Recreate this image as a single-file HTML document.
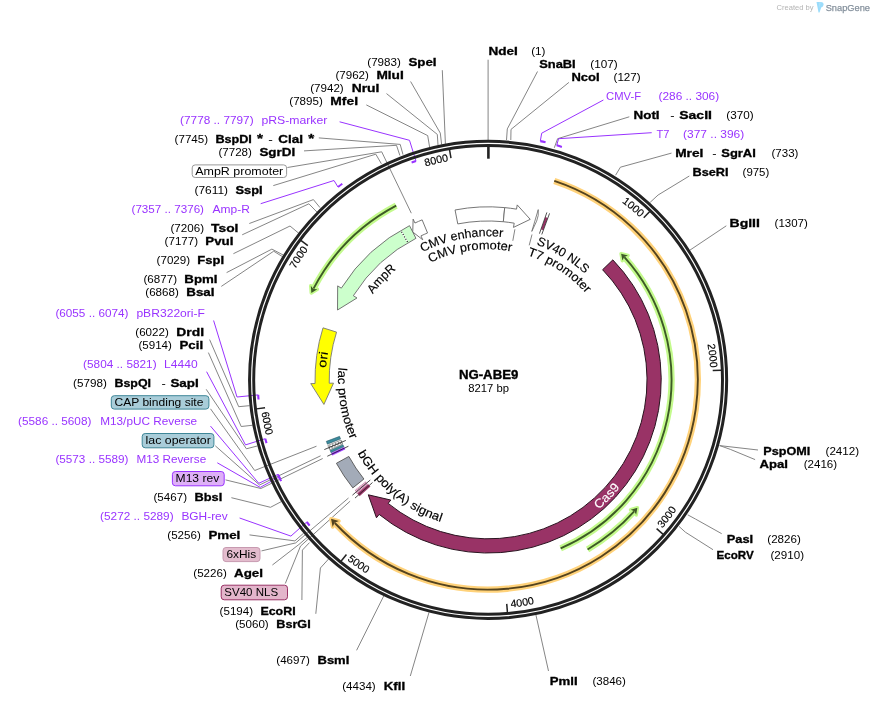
<!DOCTYPE html>
<html><head><meta charset="utf-8"><title>NG-ABE9</title>
<style>
html,body{margin:0;padding:0;background:#fff;}
body{width:874px;height:703px;overflow:hidden;}
svg{display:block;will-change:transform;font-family:"Liberation Sans",sans-serif;}
</style></head><body>
<svg width="874" height="703" viewBox="0 0 874 703">
<rect width="874" height="703" fill="#fff"/>
<polyline points="514.9,229.3 512.8,240.8" fill="none" stroke="#777" stroke-width="0.9"/>
<polyline points="532,234.5 529.2,245.3" fill="none" stroke="#777" stroke-width="0.9"/>
<polyline points="442.3,70.2 445.4,143.83" fill="none" stroke="#777" stroke-width="0.9"/>
<polyline points="410.6,81.5 440.3,133.1 441.62,144.55" fill="none" stroke="#777" stroke-width="0.9"/>
<polyline points="386.5,93.6 437.3,134.4 438.02,145.28" fill="none" stroke="#777" stroke-width="0.9"/>
<polyline points="366.3,104.9 427.7,135.6 429.63,147.24" fill="none" stroke="#777" stroke-width="0.9"/>
<polyline points="318.8,137.9 400.2,144.4 403,154.6" fill="none" stroke="#777" stroke-width="0.9"/>
<polyline points="304,150.9 396.5,145.3 399.9,155.5" fill="none" stroke="#777" stroke-width="0.9"/>
<polyline points="287.4,167.5 381.7,151.8 411.3,213.2" fill="none" stroke="#777" stroke-width="0.9"/>
<polyline points="273.3,185.6 375.8,154.2 381.4,163.8" fill="none" stroke="#777" stroke-width="0.9"/>
<polyline points="249.3,223.5 313.4,199.6 320,207.6" fill="none" stroke="#777" stroke-width="0.9"/>
<polyline points="242.2,234.8 308.9,203.8 317,212.1" fill="none" stroke="#777" stroke-width="0.9"/>
<polyline points="233.4,253.7 290,226 298.8,233.3" fill="none" stroke="#777" stroke-width="0.9"/>
<polyline points="226.6,272.6 271.9,249.1 283,254.9" fill="none" stroke="#777" stroke-width="0.9"/>
<polyline points="221.3,286.4 273.7,251.2 282.5,256.7" fill="none" stroke="#777" stroke-width="0.9"/>
<polyline points="209.6,339.6 238.7,406.7 249.59,405.67" fill="none" stroke="#777" stroke-width="0.9"/>
<polyline points="208.4,352.6 241.2,426.5 252.53,425.26" fill="none" stroke="#777" stroke-width="0.9"/>
<polyline points="206.2,389.3 246.4,448.8 257.47,445.95" fill="none" stroke="#777" stroke-width="0.9"/>
<polyline points="210.5,408.8 254.7,470.5 316.5,446.2" fill="none" stroke="#777" stroke-width="0.9"/>
<polyline points="215.3,445.8 259.5,485 320.6,455.8" fill="none" stroke="#777" stroke-width="0.9"/>
<polyline points="225.6,479.9 260.9,488.5 322.7,458.5" fill="none" stroke="#777" stroke-width="0.9"/>
<polyline points="231.4,497.7 270.5,507.3 281.36,501.59" fill="none" stroke="#777" stroke-width="0.9"/>
<polyline points="249.5,534.9 294.9,540.9 303.59,533.22" fill="none" stroke="#777" stroke-width="0.9"/>
<polyline points="261.5,550.9 295.7,542.9 348.5,498" fill="none" stroke="#777" stroke-width="0.9"/>
<polyline points="272.4,565 298.9,544.5 307.16,537.42" fill="none" stroke="#777" stroke-width="0.9"/>
<polyline points="285.3,583.5 300.5,546.1 350.1,501.2" fill="none" stroke="#777" stroke-width="0.9"/>
<polyline points="301.9,600 302.4,550.1 309.5,542.6" fill="none" stroke="#777" stroke-width="0.9"/>
<polyline points="315.8,613.8 320.4,568 328.55,559.06" fill="none" stroke="#777" stroke-width="0.9"/>
<polyline points="356.6,650.3 383.75,595.92" fill="none" stroke="#777" stroke-width="0.9"/>
<polyline points="410.3,676 429,612.41" fill="none" stroke="#777" stroke-width="0.9"/>
<polyline points="548.5,671 535.93,614.98" fill="none" stroke="#777" stroke-width="0.9"/>
<polyline points="713,549.7 685.4,532.2 679,526.4" fill="none" stroke="#777" stroke-width="0.9"/>
<polyline points="721.7,533.7 695.6,519.1 687.7,514.8" fill="none" stroke="#777" stroke-width="0.9"/>
<polyline points="755.1,459.6 730.4,449.4 719.7,445.6" fill="none" stroke="#777" stroke-width="0.9"/>
<polyline points="758,450 719.7,445.6" fill="none" stroke="#777" stroke-width="0.9"/>
<polyline points="726.3,225.8 689.89,250.16" fill="none" stroke="#777" stroke-width="0.9"/>
<polyline points="689.3,176 658.1,195 650.2,202.3" fill="none" stroke="#777" stroke-width="0.9"/>
<polyline points="671.5,153.1 620.4,167.2 615.6,175.2" fill="none" stroke="#777" stroke-width="0.9"/>
<polyline points="629.3,116.8 557.6,138.7 554.3,147.8" fill="none" stroke="#777" stroke-width="0.9"/>
<polyline points="568.9,82.4 511,129.4 510.8,140" fill="none" stroke="#777" stroke-width="0.9"/>
<polyline points="537.5,71.5 507.3,128.9 506.5,140" fill="none" stroke="#777" stroke-width="0.9"/>
<polyline points="488.1,59.7 488.1,140" fill="none" stroke="#777" stroke-width="0.9"/>
<polyline points="603.4,100 541.7,133.2 540.31,141.14" fill="none" stroke="#9933ff" stroke-width="1.0"/>
<path d="M540.31,141.14 A244.4,244.4 0 0 1 545.57,142.35" fill="none" stroke="#9933ff" stroke-width="2.1"/>
<polyline points="651.7,132.7 558.6,138.7 556.7,145.32" fill="none" stroke="#9933ff" stroke-width="1.0"/>
<path d="M556.7,145.32 A244.4,244.4 0 0 1 561.86,146.9" fill="none" stroke="#9933ff" stroke-width="2.1"/>
<polyline points="339.6,121.8 409.5,140.3 415.97,161.08" fill="none" stroke="#9933ff" stroke-width="1.0"/>
<path d="M415.97,161.08 A230.4,230.4 0 0 0 411.61,162.57" fill="none" stroke="#9933ff" stroke-width="2.1"/>
<polyline points="260.7,203.7 334,180.5 337.99,187.03" fill="none" stroke="#9933ff" stroke-width="1.0"/>
<path d="M337.99,187.03 A244.4,244.4 0 0 1 342.28,183.76" fill="none" stroke="#9933ff" stroke-width="2.1"/>
<polyline points="213.6,320.5 237,397 258.19,394.9" fill="none" stroke="#9933ff" stroke-width="1.0"/>
<path d="M258.19,394.9 A230.4,230.4 0 0 0 258.53,399.49" fill="none" stroke="#9933ff" stroke-width="2.1"/>
<polyline points="206.6,371.7 245.5,444.9 265.32,438.65" fill="none" stroke="#9933ff" stroke-width="1.0"/>
<path d="M265.32,438.65 A230.4,230.4 0 0 0 266.53,443.09" fill="none" stroke="#9933ff" stroke-width="2.1"/>
<polyline points="210.5,426.1 258.8,483.3 277.97,474.4" fill="none" stroke="#9933ff" stroke-width="1.0"/>
<path d="M277.97,474.4 A230.4,230.4 0 0 0 279.9,478.58" fill="none" stroke="#9933ff" stroke-width="2.1"/>
<polyline points="217.3,462.8 260.2,487.4 279.14,476.96" fill="none" stroke="#9933ff" stroke-width="1.0"/>
<path d="M279.14,476.96 A230.4,230.4 0 0 0 281.12,481.12" fill="none" stroke="#9933ff" stroke-width="2.1"/>
<polyline points="239.6,518 290.9,536.1 306.74,522" fill="none" stroke="#9933ff" stroke-width="1.0"/>
<path d="M306.74,522 A230.4,230.4 0 0 0 309.62,525.6" fill="none" stroke="#9933ff" stroke-width="2.1"/>
<circle cx="488.1" cy="379.9" r="238.55" fill="none" stroke="#222" stroke-width="3.0"/>
<circle cx="488.1" cy="379.9" r="234.4" fill="none" stroke="#222" stroke-width="2.95"/>
<line x1="488.4" y1="146.4" x2="488.4" y2="158.7" stroke="#222" stroke-width="2.6"/>
<line x1="649.75" y1="211.4" x2="643.73" y2="217.68" stroke="#222" stroke-width="1.5"/>
<path id="tp1" d="M621.83,202.32 A222.3,222.3 0 0 1 656.17,234.4" fill="none"/>
<text font-size="10.6" fill="#000" font-weight="normal" stroke="#000" stroke-width="0.15"><textPath href="#tp1" textLength="23.8" lengthAdjust="spacingAndGlyphs">1000</textPath></text>
<line x1="721.4" y1="370.22" x2="712.71" y2="370.58" stroke="#222" stroke-width="1.5"/>
<path id="tp2" d="M707.54,344.33 A222.3,222.3 0 0 1 710.11,391.25" fill="none"/>
<text font-size="10.6" fill="#000" font-weight="normal" stroke="#000" stroke-width="0.15"><textPath href="#tp2" textLength="23.8" lengthAdjust="spacingAndGlyphs">2000</textPath></text>
<line x1="663.16" y1="534.42" x2="656.63" y2="528.67" stroke="#222" stroke-width="1.5"/>
<path id="tp3" d="M662.19,528.37 A228.8,228.8 0 0 0 689.18,489.07" fill="none"/>
<text font-size="10.6" fill="#000" font-weight="normal" stroke="#000" stroke-width="0.15"><textPath href="#tp3" textLength="23.8" lengthAdjust="spacingAndGlyphs">3000</textPath></text>
<line x1="507.45" y1="612.6" x2="506.73" y2="603.93" stroke="#222" stroke-width="1.5"/>
<path id="tp4" d="M510.94,607.56 A228.8,228.8 0 0 0 557.63,597.88" fill="none"/>
<text font-size="10.6" fill="#000" font-weight="normal" stroke="#000" stroke-width="0.15"><textPath href="#tp4" textLength="23.8" lengthAdjust="spacingAndGlyphs">4000</textPath></text>
<line x1="340.97" y1="561.21" x2="346.45" y2="554.46" stroke="#222" stroke-width="1.5"/>
<path id="tp5" d="M346.98,560 A228.8,228.8 0 0 0 387.36,585.33" fill="none"/>
<text font-size="10.6" fill="#000" font-weight="normal" stroke="#000" stroke-width="0.15"><textPath href="#tp5" textLength="23.8" lengthAdjust="spacingAndGlyphs">5000</textPath></text>
<line x1="256.41" y1="408.88" x2="265.04" y2="407.8" stroke="#222" stroke-width="1.5"/>
<path id="tp6" d="M261.59,412.17 A228.8,228.8 0 0 0 273.19,458.41" fill="none"/>
<text font-size="10.6" fill="#000" font-weight="normal" stroke="#000" stroke-width="0.15"><textPath href="#tp6" textLength="23.8" lengthAdjust="spacingAndGlyphs">6000</textPath></text>
<line x1="300.84" y1="240.42" x2="307.82" y2="245.61" stroke="#222" stroke-width="1.5"/>
<path id="tp7" d="M295.29,269.25 A222.3,222.3 0 0 1 322.86,231.19" fill="none"/>
<text font-size="10.6" fill="#000" font-weight="normal" stroke="#000" stroke-width="0.15"><textPath href="#tp7" textLength="23.8" lengthAdjust="spacingAndGlyphs">7000</textPath></text>
<line x1="449.53" y1="149.61" x2="450.97" y2="158.19" stroke="#222" stroke-width="1.5"/>
<path id="tp8" d="M425.57,166.58 A222.3,222.3 0 0 1 471.81,158.2" fill="none"/>
<text font-size="10.6" fill="#000" font-weight="normal" stroke="#000" stroke-width="0.15"><textPath href="#tp8" textLength="23.8" lengthAdjust="spacingAndGlyphs">8000</textPath></text>
<path d="M554.29,180.92 A209.7,209.7 0 1 1 334.81,523" fill="none" stroke="#ffd27a" stroke-width="6.3"/>
<path d="M331.04,518.85 L332.62,527 L334.57,522.74 L338.92,521.03 Z" fill="#ffd27a" stroke="#ffd27a" stroke-width="3.6" stroke-linejoin="round"/>
<path d="M554.29,180.92 A209.7,209.7 0 1 1 334.81,523" fill="none" stroke="#54431e" stroke-width="1.9"/>
<path d="M331.04,518.85 L332.62,527 L334.57,522.74 L338.92,521.03 Z" fill="#54431e"/>
<path d="M396.22,205.64 A197,197 0 0 0 313.51,288.64" fill="none" stroke="#c3fa8c" stroke-width="6.3"/>
<path d="M311.34,292.92 L310.78,285.84 L313.37,288.91 L317.36,289.32 Z" fill="#c3fa8c" stroke="#c3fa8c" stroke-width="3.6" stroke-linejoin="round"/>
<path d="M396.22,205.64 A197,197 0 0 0 313.51,288.64" fill="none" stroke="#3d5a26" stroke-width="1.9"/>
<path d="M311.34,292.92 L310.78,285.84 L313.37,288.91 L317.36,289.32 Z" fill="#3d5a26"/>
<path d="M560.64,548.34 A183.4,183.4 0 0 0 624.39,257.18" fill="none" stroke="#c3fa8c" stroke-width="6.3"/>
<path d="M621.13,253.66 L627.97,255.6 L624.19,256.96 L622.41,260.55 Z" fill="#c3fa8c" stroke="#c3fa8c" stroke-width="3.6" stroke-linejoin="round"/>
<path d="M560.64,548.34 A183.4,183.4 0 0 0 624.39,257.18" fill="none" stroke="#3d5a26" stroke-width="1.9"/>
<path d="M621.13,253.66 L627.97,255.6 L624.19,256.96 L622.41,260.55 Z" fill="#3d5a26"/>
<path d="M587.59,549.47 A196.6,196.6 0 0 0 634.2,511.45" fill="none" stroke="#c3fa8c" stroke-width="6.3"/>
<path d="M637.37,507.84 L636.15,514.84 L634.41,511.23 L630.65,509.83 Z" fill="#c3fa8c" stroke="#c3fa8c" stroke-width="3.6" stroke-linejoin="round"/>
<path d="M587.59,549.47 A196.6,196.6 0 0 0 634.2,511.45" fill="none" stroke="#3d5a26" stroke-width="1.9"/>
<path d="M637.37,507.84 L636.15,514.84 L634.41,511.23 L630.65,509.83 Z" fill="#3d5a26"/>
<path d="M612.83,259.87 A173.1,173.1 0 0 1 379.16,514.42 L376.46,517.77 L368.29,494.8 L390.81,500.05 L388.1,503.39 A158.9,158.9 0 0 0 602.6,269.72 Z" fill="#993366" stroke="#2a1420" stroke-width="1.0" stroke-linejoin="miter"/>
<path d="M455.07,209.98 A173.1,173.1 0 0 1 504.69,207.6 L503.33,221.73 A158.9,158.9 0 0 0 457.78,223.92 Z" fill="#fff" stroke="#666" stroke-width="0.9" stroke-linejoin="miter"/>
<path d="M504.69,207.6 A173.1,173.1 0 0 1 516.52,209.15 L517.23,204.91 L530.22,219.33 L513.48,227.4 L514.19,223.16 A158.9,158.9 0 0 0 503.33,221.73 Z" fill="#fff" stroke="#666" stroke-width="0.9" stroke-linejoin="miter"/>
<path d="M538.22,209.62 L538.24,215.37 L536.63,221.15 L531.81,231.4 Z" fill="#fff" stroke="#666" stroke-width="0.8"/>
<path d="M545.43,217.1 A172.6,172.6 0 0 1 547.7,217.92 L543.14,230.3 A159.4,159.4 0 0 0 541.05,229.55 Z" fill="#993366" stroke="none" stroke-width="0" stroke-linejoin="miter"/>
<line x1="539.43" y1="233.65" x2="546.88" y2="212.42" stroke="#1a1a1a" stroke-width="0.75"/>
<line x1="541.77" y1="234.49" x2="549.56" y2="213.38" stroke="#1a1a1a" stroke-width="0.75"/>
<path d="M422.14,219.86 A173.1,173.1 0 0 0 414.94,223.02 L413.13,219.12 L412.74,231.99 L422.76,239.78 L420.95,235.89 A158.9,158.9 0 0 1 427.55,232.99 Z" fill="#fff" stroke="#666" stroke-width="0.9" stroke-linejoin="miter"/>
<path d="M409.51,225.67 A173.1,173.1 0 0 0 341.3,288.17 L337.66,285.89 L337.53,310.01 L356.99,297.97 L353.35,295.7 A158.9,158.9 0 0 1 415.96,238.32 Z" fill="#ccffcc" stroke="#666" stroke-width="0.9" stroke-linejoin="miter"/>
<line x1="407.53" y1="242.02" x2="401.17" y2="231.14" stroke="#fff" stroke-width="1.3"/>
<line x1="407.53" y1="242.02" x2="401.17" y2="231.14" stroke="#111" stroke-width="1.1" stroke-dasharray="1.1,1.6"/>
<path d="M323.01,327.85 A173.1,173.1 0 0 0 315.04,383.53 L310.74,383.62 L323.92,404.44 L333.53,383.14 L329.23,383.23 A158.9,158.9 0 0 1 336.55,332.12 Z" fill="#ffff00" stroke="#777" stroke-width="0.9" stroke-linejoin="miter"/>
<path d="M326.28,441.37 A173.1,173.1 0 0 0 327.38,444.18 L340.56,438.91 A158.9,158.9 0 0 1 339.56,436.33 Z" fill="#3a8a9c" stroke="#2a5560" stroke-width="0.5" stroke-linejoin="miter"/>
<path d="M327.89,445.44 A173.1,173.1 0 0 0 329.72,449.75 L342.71,444.02 A158.9,158.9 0 0 1 341.03,440.07 Z" fill="#fff" stroke="#444" stroke-width="0.5" stroke-linejoin="miter"/>
<polyline points="341.35,440.84 340.93,443.89 338.43,442.05 338.04,445.15 335.52,443.26 335.14,446.41 332.61,444.47 332.25,447.67 329.69,445.68 329.36,448.92" fill="none" stroke="#333" stroke-width="0.55"/>
<path d="M330.03,450.44 A173.1,173.1 0 0 0 331.09,452.78 L343.97,446.8 A158.9,158.9 0 0 1 342.99,444.66 Z" fill="#3a8a9c" stroke="#2a5560" stroke-width="0.5" stroke-linejoin="miter"/>
<path d="M331.28,453.19 A173.1,173.1 0 0 0 332.32,455.37 L345.1,449.18 A158.9,158.9 0 0 1 344.15,447.18 Z" fill="#9933ff" stroke="#9933ff" stroke-width="0.3" stroke-linejoin="miter"/>
<line x1="345.84" y1="440.43" x2="324.31" y2="449.59" stroke="#222" stroke-width="0.8"/>
<line x1="348.44" y1="446.21" x2="327.31" y2="456.25" stroke="#222" stroke-width="0.8"/>
<path d="M336.41,463.29 A173.1,173.1 0 0 0 352.82,487.89 L363.92,479.03 A158.9,158.9 0 0 1 348.85,456.45 Z" fill="#a3abb8" stroke="#555" stroke-width="0.9" stroke-linejoin="miter"/>
<path d="M354.72,490.24 A173.1,173.1 0 0 0 357.46,493.46 L368.18,484.15 A158.9,158.9 0 0 1 365.67,481.19 Z" fill="#e8bcd4" stroke="none" stroke-width="0" stroke-linejoin="miter"/>
<line x1="364.97" y1="481.76" x2="366.59" y2="485.53" stroke="#a05080" stroke-width="0.45"/>
<line x1="363.59" y1="482.91" x2="365.23" y2="486.71" stroke="#a05080" stroke-width="0.45"/>
<line x1="362.2" y1="484.06" x2="363.87" y2="487.89" stroke="#a05080" stroke-width="0.45"/>
<line x1="360.81" y1="485.2" x2="362.52" y2="489.07" stroke="#a05080" stroke-width="0.45"/>
<line x1="359.42" y1="486.35" x2="361.16" y2="490.25" stroke="#a05080" stroke-width="0.45"/>
<line x1="358.04" y1="487.5" x2="359.8" y2="491.43" stroke="#a05080" stroke-width="0.45"/>
<line x1="356.65" y1="488.64" x2="358.44" y2="492.61" stroke="#a05080" stroke-width="0.45"/>
<line x1="355.26" y1="489.79" x2="357.08" y2="493.79" stroke="#a05080" stroke-width="0.45"/>
<path d="M357.46,493.46 A173.1,173.1 0 0 0 359.66,495.95 L370.2,486.43 A158.9,158.9 0 0 1 368.18,484.15 Z" fill="#993366" stroke="#993366" stroke-width="0.3" stroke-linejoin="miter"/>
<line x1="370.28" y1="480" x2="352.45" y2="495.15" stroke="#222" stroke-width="0.8"/>
<line x1="372.49" y1="482.54" x2="354.99" y2="498.08" stroke="#222" stroke-width="0.8"/>
<path id="tp9" d="M422.46,252.18 A143.6,143.6 0 0 1 517.71,239.39" fill="none"/>
<text font-size="12.3" fill="#000" font-weight="normal" stroke="#000" stroke-width="0.15"><textPath href="#tp9" textLength="82.96" lengthAdjust="spacingAndGlyphs">CMV enhancer</textPath></text>
<path id="tp10" d="M430.44,262.72 A130.6,130.6 0 0 1 524.76,254.55" fill="none"/>
<text font-size="12.3" fill="#000" font-weight="normal" stroke="#000" stroke-width="0.15"><textPath href="#tp10" textLength="83.2" lengthAdjust="spacingAndGlyphs">CMV promoter</textPath></text>
<path id="tp11" d="M536.27,244.62 A143.6,143.6 0 0 1 595.48,284.56" fill="none"/>
<text font-size="12.3" fill="#000" font-weight="normal" stroke="#000" stroke-width="0.15"><textPath href="#tp11" textLength="57.14" lengthAdjust="spacingAndGlyphs">SV40 NLS</textPath></text>
<path id="tp12" d="M527.15,255.28 A130.6,130.6 0 0 1 594.56,304.25" fill="none"/>
<text font-size="12.3" fill="#000" font-weight="normal" stroke="#000" stroke-width="0.15"><textPath href="#tp12" textLength="71.12" lengthAdjust="spacingAndGlyphs">T7 promoter</textPath></text>
<path id="tp13" d="M372.82,294.28 A143.6,143.6 0 0 1 408.22,260.57" fill="none"/>
<text font-size="12.3" fill="#000" font-weight="normal" stroke="#000" stroke-width="0.15"><textPath href="#tp13" textLength="34.09" lengthAdjust="spacingAndGlyphs">AmpR</textPath></text>
<path id="tp14" d="M326.14,368.01 A162.4,162.4 0 0 1 331.84,335.68" fill="none"/>
<text font-size="12.3" fill="#000" font-weight="normal" stroke="#000" stroke-width="0.15"><textPath href="#tp14" textLength="15.87" lengthAdjust="spacingAndGlyphs">ori</textPath></text>
<path id="tp15" d="M338.6,367.61 A150,150 0 0 0 357.42,453.54" fill="none"/>
<text font-size="12.3" fill="#000" font-weight="normal" stroke="#000" stroke-width="0.15"><textPath href="#tp15" textLength="73.57" lengthAdjust="spacingAndGlyphs">lac promoter</textPath></text>
<path id="tp16" d="M357.55,453.16 A149.7,149.7 0 0 0 455.7,526.05" fill="none"/>
<text font-size="12.3" fill="#000" font-weight="normal" stroke="#000" stroke-width="0.15"><textPath href="#tp16" textLength="110.26" lengthAdjust="spacingAndGlyphs">bGH poly(A) signal</textPath></text>
<path id="tp17" d="M598.41,509.51 A170.2,170.2 0 0 0 630.52,473.1" fill="none"/>
<text font-size="12.3" fill="#fff" font-weight="normal" stroke="#fff" stroke-width="0.15"><textPath href="#tp17" textLength="30.89" lengthAdjust="spacingAndGlyphs">Cas9</textPath></text>
<text x="367.3" y="65.9" font-size="10.8" fill="#000" textLength="33.5" lengthAdjust="spacingAndGlyphs">(7983)</text>
<text x="408.4" y="65.9" font-size="10.8" fill="#000" font-weight="bold" stroke="#000" stroke-width="0.3" textLength="28.2" lengthAdjust="spacingAndGlyphs">SpeI</text>
<text x="335.4" y="79" font-size="10.8" fill="#000" textLength="33.5" lengthAdjust="spacingAndGlyphs">(7962)</text>
<text x="376.4" y="79" font-size="10.8" fill="#000" font-weight="bold" stroke="#000" stroke-width="0.3" textLength="27.4" lengthAdjust="spacingAndGlyphs">MluI</text>
<text x="310.2" y="92.1" font-size="10.8" fill="#000" textLength="33.5" lengthAdjust="spacingAndGlyphs">(7942)</text>
<text x="351.7" y="92.1" font-size="10.8" fill="#000" font-weight="bold" stroke="#000" stroke-width="0.3" textLength="27.7" lengthAdjust="spacingAndGlyphs">NruI</text>
<text x="289.3" y="105.2" font-size="10.8" fill="#000" textLength="33.5" lengthAdjust="spacingAndGlyphs">(7895)</text>
<text x="330.3" y="105.2" font-size="10.8" fill="#000" font-weight="bold" stroke="#000" stroke-width="0.3" textLength="27.7" lengthAdjust="spacingAndGlyphs">MfeI</text>
<text x="180.1" y="123.9" font-size="10.8" fill="#9933ff" textLength="73.5" lengthAdjust="spacingAndGlyphs">(7778 .. 7797)</text>
<text x="261.4" y="123.9" font-size="10.8" fill="#9933ff" textLength="66" lengthAdjust="spacingAndGlyphs">pRS-marker</text>
<text x="174.6" y="142.8" font-size="10.8" fill="#000" textLength="33.5" lengthAdjust="spacingAndGlyphs">(7745)</text>
<text x="215.4" y="142.8" font-size="10.8" fill="#000" font-weight="bold" stroke="#000" stroke-width="0.3" textLength="36.5" lengthAdjust="spacingAndGlyphs">BspDI</text>
<text x="256.9" y="143.2" font-size="12.5" fill="#000" font-weight="bold" stroke="#000" stroke-width="0.3" textLength="6" lengthAdjust="spacingAndGlyphs">*</text>
<text x="268.2" y="142.8" font-size="10.8" fill="#000" textLength="4.6" lengthAdjust="spacingAndGlyphs">-</text>
<text x="278.3" y="142.8" font-size="10.8" fill="#000" font-weight="bold" stroke="#000" stroke-width="0.3" textLength="24.7" lengthAdjust="spacingAndGlyphs">ClaI</text>
<text x="308.3" y="143.2" font-size="12.5" fill="#000" font-weight="bold" stroke="#000" stroke-width="0.3" textLength="6" lengthAdjust="spacingAndGlyphs">*</text>
<text x="218.4" y="155.9" font-size="10.8" fill="#000" textLength="33.5" lengthAdjust="spacingAndGlyphs">(7728)</text>
<text x="259.4" y="155.9" font-size="10.8" fill="#000" font-weight="bold" stroke="#000" stroke-width="0.3" textLength="35.8" lengthAdjust="spacingAndGlyphs">SgrDI</text>
<text x="194.5" y="193.6" font-size="10.8" fill="#000" textLength="33.5" lengthAdjust="spacingAndGlyphs">(7611)</text>
<text x="235.5" y="193.6" font-size="10.8" fill="#000" font-weight="bold" stroke="#000" stroke-width="0.3" textLength="27.2" lengthAdjust="spacingAndGlyphs">SspI</text>
<text x="131.5" y="212.6" font-size="10.8" fill="#9933ff" textLength="72.5" lengthAdjust="spacingAndGlyphs">(7357 .. 7376)</text>
<text x="212.5" y="212.6" font-size="10.8" fill="#9933ff" textLength="37.3" lengthAdjust="spacingAndGlyphs">Amp-R</text>
<text x="170.5" y="231.5" font-size="10.8" fill="#000" textLength="33.5" lengthAdjust="spacingAndGlyphs">(7206)</text>
<text x="211.1" y="231.5" font-size="10.8" fill="#000" font-weight="bold" stroke="#000" stroke-width="0.3" textLength="27.3" lengthAdjust="spacingAndGlyphs">TsoI</text>
<text x="164.6" y="244.6" font-size="10.8" fill="#000" textLength="33.5" lengthAdjust="spacingAndGlyphs">(7177)</text>
<text x="205.3" y="244.6" font-size="10.8" fill="#000" font-weight="bold" stroke="#000" stroke-width="0.3" textLength="28.2" lengthAdjust="spacingAndGlyphs">PvuI</text>
<text x="156.6" y="263.5" font-size="10.8" fill="#000" textLength="33.5" lengthAdjust="spacingAndGlyphs">(7029)</text>
<text x="197.3" y="263.5" font-size="10.8" fill="#000" font-weight="bold" stroke="#000" stroke-width="0.3" textLength="26.7" lengthAdjust="spacingAndGlyphs">FspI</text>
<text x="143.5" y="282.6" font-size="10.8" fill="#000" textLength="33.5" lengthAdjust="spacingAndGlyphs">(6877)</text>
<text x="184.3" y="282.6" font-size="10.8" fill="#000" font-weight="bold" stroke="#000" stroke-width="0.3" textLength="33.2" lengthAdjust="spacingAndGlyphs">BpmI</text>
<text x="145.3" y="295.7" font-size="10.8" fill="#000" textLength="33.5" lengthAdjust="spacingAndGlyphs">(6868)</text>
<text x="186.3" y="295.7" font-size="10.8" fill="#000" font-weight="bold" stroke="#000" stroke-width="0.3" textLength="28.2" lengthAdjust="spacingAndGlyphs">BsaI</text>
<text x="55.4" y="317" font-size="10.8" fill="#9933ff" textLength="73" lengthAdjust="spacingAndGlyphs">(6055 .. 6074)</text>
<text x="136.4" y="317" font-size="10.8" fill="#9933ff" textLength="68.6" lengthAdjust="spacingAndGlyphs">pBR322ori-F</text>
<text x="135.3" y="335.6" font-size="10.8" fill="#000" textLength="33.5" lengthAdjust="spacingAndGlyphs">(6022)</text>
<text x="176.3" y="335.6" font-size="10.8" fill="#000" font-weight="bold" stroke="#000" stroke-width="0.3" textLength="27.7" lengthAdjust="spacingAndGlyphs">DrdI</text>
<text x="138.4" y="348.6" font-size="10.8" fill="#000" textLength="33.5" lengthAdjust="spacingAndGlyphs">(5914)</text>
<text x="179.5" y="348.6" font-size="10.8" fill="#000" font-weight="bold" stroke="#000" stroke-width="0.3" textLength="23.6" lengthAdjust="spacingAndGlyphs">PciI</text>
<text x="83.1" y="367.5" font-size="10.8" fill="#9933ff" textLength="73.5" lengthAdjust="spacingAndGlyphs">(5804 .. 5821)</text>
<text x="164.1" y="367.5" font-size="10.8" fill="#9933ff" textLength="33.5" lengthAdjust="spacingAndGlyphs">L4440</text>
<text x="73" y="387" font-size="10.8" fill="#000" textLength="33.8" lengthAdjust="spacingAndGlyphs">(5798)</text>
<text x="114.5" y="387" font-size="10.8" fill="#000" font-weight="bold" stroke="#000" stroke-width="0.3" textLength="36.5" lengthAdjust="spacingAndGlyphs">BspQI</text>
<text x="161.6" y="387" font-size="10.8" fill="#000" textLength="4.3" lengthAdjust="spacingAndGlyphs">-</text>
<text x="170.4" y="387" font-size="10.8" fill="#000" font-weight="bold" stroke="#000" stroke-width="0.3" textLength="28.4" lengthAdjust="spacingAndGlyphs">SapI</text>
<text x="18.1" y="424.7" font-size="10.8" fill="#9933ff" textLength="73.3" lengthAdjust="spacingAndGlyphs">(5586 .. 5608)</text>
<text x="100.2" y="424.7" font-size="10.8" fill="#9933ff" textLength="96.9" lengthAdjust="spacingAndGlyphs">M13/pUC Reverse</text>
<text x="55.4" y="463" font-size="10.8" fill="#9933ff" textLength="73" lengthAdjust="spacingAndGlyphs">(5573 .. 5589)</text>
<text x="136.4" y="463" font-size="10.8" fill="#9933ff" textLength="69.8" lengthAdjust="spacingAndGlyphs">M13 Reverse</text>
<text x="153.5" y="500.9" font-size="10.8" fill="#000" textLength="33.5" lengthAdjust="spacingAndGlyphs">(5467)</text>
<text x="194.5" y="500.9" font-size="10.8" fill="#000" font-weight="bold" stroke="#000" stroke-width="0.3" textLength="27.7" lengthAdjust="spacingAndGlyphs">BbsI</text>
<text x="100.1" y="519.8" font-size="10.8" fill="#9933ff" textLength="73.5" lengthAdjust="spacingAndGlyphs">(5272 .. 5289)</text>
<text x="181.4" y="519.8" font-size="10.8" fill="#9933ff" textLength="46.3" lengthAdjust="spacingAndGlyphs">BGH-rev</text>
<text x="167.3" y="538.7" font-size="10.8" fill="#000" textLength="33.5" lengthAdjust="spacingAndGlyphs">(5256)</text>
<text x="208.4" y="538.7" font-size="10.8" fill="#000" font-weight="bold" stroke="#000" stroke-width="0.3" textLength="31.9" lengthAdjust="spacingAndGlyphs">PmeI</text>
<text x="193.3" y="576.7" font-size="10.8" fill="#000" textLength="33.5" lengthAdjust="spacingAndGlyphs">(5226)</text>
<text x="234" y="576.7" font-size="10.8" fill="#000" font-weight="bold" stroke="#000" stroke-width="0.3" textLength="29" lengthAdjust="spacingAndGlyphs">AgeI</text>
<text x="219.6" y="614.9" font-size="10.8" fill="#000" textLength="33.5" lengthAdjust="spacingAndGlyphs">(5194)</text>
<text x="260.4" y="614.9" font-size="10.8" fill="#000" font-weight="bold" stroke="#000" stroke-width="0.3" textLength="35.2" lengthAdjust="spacingAndGlyphs">EcoRI</text>
<text x="235.2" y="627.9" font-size="10.8" fill="#000" textLength="33.5" lengthAdjust="spacingAndGlyphs">(5060)</text>
<text x="276.3" y="627.9" font-size="10.8" fill="#000" font-weight="bold" stroke="#000" stroke-width="0.3" textLength="34.4" lengthAdjust="spacingAndGlyphs">BsrGI</text>
<text x="276.3" y="663.7" font-size="10.8" fill="#000" textLength="33.5" lengthAdjust="spacingAndGlyphs">(4697)</text>
<text x="317.5" y="663.7" font-size="10.8" fill="#000" font-weight="bold" stroke="#000" stroke-width="0.3" textLength="31.8" lengthAdjust="spacingAndGlyphs">BsmI</text>
<text x="342.2" y="689.9" font-size="10.8" fill="#000" textLength="33.5" lengthAdjust="spacingAndGlyphs">(4434)</text>
<text x="383.7" y="689.9" font-size="10.8" fill="#000" font-weight="bold" stroke="#000" stroke-width="0.3" textLength="21.4" lengthAdjust="spacingAndGlyphs">KflI</text>
<rect x="192.2" y="164.9" width="94.4" height="12.6" rx="3" ry="3" fill="#fff" stroke="#999" stroke-width="1"/>
<text x="195.2" y="174.8" font-size="11.2" fill="#000" textLength="88.1" lengthAdjust="spacingAndGlyphs">AmpR promoter</text>
<rect x="111.3" y="395.7" width="97.6" height="13.4" rx="3" ry="3" fill="#a9cdd9" stroke="#3f8798" stroke-width="1"/>
<text x="114.5" y="405.8" font-size="11.2" fill="#000" textLength="88.9" lengthAdjust="spacingAndGlyphs">CAP binding site</text>
<rect x="142.2" y="433.5" width="71.7" height="14.3" rx="3" ry="3" fill="#a9cdd9" stroke="#3f8798" stroke-width="1"/>
<text x="145.5" y="444" font-size="11.2" fill="#000" textLength="65.4" lengthAdjust="spacingAndGlyphs">lac operator</text>
<rect x="172.4" y="471.5" width="51.8" height="14.3" rx="3" ry="3" fill="#deb0f7" stroke="#9933ff" stroke-width="1"/>
<text x="175.6" y="482" font-size="11.2" fill="#000" textLength="43.6" lengthAdjust="spacingAndGlyphs">M13 rev</text>
<rect x="223" y="547.5" width="37" height="14.1" rx="3" ry="3" fill="#e3bccd" stroke="#c79ab0" stroke-width="1"/>
<text x="226.5" y="557.8" font-size="11.2" fill="#000" textLength="29.7" lengthAdjust="spacingAndGlyphs">6xHis</text>
<rect x="221.2" y="585.2" width="66.3" height="14.6" rx="3" ry="3" fill="#e3b5cb" stroke="#993366" stroke-width="1"/>
<text x="224.3" y="595.6" font-size="11.2" fill="#000" textLength="53.8" lengthAdjust="spacingAndGlyphs">SV40 NLS</text>
<text x="488.4" y="54.7" font-size="10.8" fill="#000" font-weight="bold" stroke="#000" stroke-width="0.3" textLength="29.4" lengthAdjust="spacingAndGlyphs">NdeI</text>
<text x="531.2" y="54.7" font-size="10.8" fill="#000" textLength="14.3" lengthAdjust="spacingAndGlyphs">(1)</text>
<text x="539.2" y="67.8" font-size="10.8" fill="#000" font-weight="bold" stroke="#000" stroke-width="0.3" textLength="36.5" lengthAdjust="spacingAndGlyphs">SnaBI</text>
<text x="590.3" y="67.8" font-size="10.8" fill="#000" textLength="27.4" lengthAdjust="spacingAndGlyphs">(107)</text>
<text x="571.4" y="80.8" font-size="10.8" fill="#000" font-weight="bold" stroke="#000" stroke-width="0.3" textLength="28.2" lengthAdjust="spacingAndGlyphs">NcoI</text>
<text x="613.5" y="80.8" font-size="10.8" fill="#000" textLength="27.2" lengthAdjust="spacingAndGlyphs">(127)</text>
<text x="606.1" y="99.9" font-size="10.8" fill="#9933ff" textLength="34.9" lengthAdjust="spacingAndGlyphs">CMV-F</text>
<text x="658.5" y="99.9" font-size="10.8" fill="#9933ff" textLength="60.6" lengthAdjust="spacingAndGlyphs">(286 .. 306)</text>
<text x="633.5" y="118.9" font-size="10.8" fill="#000" font-weight="bold" stroke="#000" stroke-width="0.3" textLength="26.1" lengthAdjust="spacingAndGlyphs">NotI</text>
<text x="670.3" y="118.9" font-size="10.8" fill="#000" textLength="4.3" lengthAdjust="spacingAndGlyphs">-</text>
<text x="679.3" y="118.9" font-size="10.8" fill="#000" font-weight="bold" stroke="#000" stroke-width="0.3" textLength="32.6" lengthAdjust="spacingAndGlyphs">SacII</text>
<text x="726.3" y="118.9" font-size="10.8" fill="#000" textLength="27.3" lengthAdjust="spacingAndGlyphs">(370)</text>
<text x="656.4" y="137.9" font-size="10.8" fill="#9933ff" textLength="12.9" lengthAdjust="spacingAndGlyphs">T7</text>
<text x="683.1" y="137.9" font-size="10.8" fill="#9933ff" textLength="61.1" lengthAdjust="spacingAndGlyphs">(377 .. 396)</text>
<text x="675.2" y="156.9" font-size="10.8" fill="#000" font-weight="bold" stroke="#000" stroke-width="0.3" textLength="28.2" lengthAdjust="spacingAndGlyphs">MreI</text>
<text x="712.2" y="156.9" font-size="10.8" fill="#000" textLength="4.3" lengthAdjust="spacingAndGlyphs">-</text>
<text x="721.3" y="156.9" font-size="10.8" fill="#000" font-weight="bold" stroke="#000" stroke-width="0.3" textLength="34.5" lengthAdjust="spacingAndGlyphs">SgrAI</text>
<text x="771.5" y="156.9" font-size="10.8" fill="#000" textLength="26.9" lengthAdjust="spacingAndGlyphs">(733)</text>
<text x="692.5" y="176" font-size="10.8" fill="#000" font-weight="bold" stroke="#000" stroke-width="0.3" textLength="36" lengthAdjust="spacingAndGlyphs">BseRI</text>
<text x="742.6" y="176" font-size="10.8" fill="#000" textLength="26.7" lengthAdjust="spacingAndGlyphs">(975)</text>
<text x="729.5" y="226.7" font-size="10.8" fill="#000" font-weight="bold" stroke="#000" stroke-width="0.3" textLength="30.4" lengthAdjust="spacingAndGlyphs">BglII</text>
<text x="774.6" y="226.7" font-size="10.8" fill="#000" textLength="33.2" lengthAdjust="spacingAndGlyphs">(1307)</text>
<text x="763.3" y="454.6" font-size="10.8" fill="#000" font-weight="bold" stroke="#000" stroke-width="0.3" textLength="47" lengthAdjust="spacingAndGlyphs">PspOMI</text>
<text x="825.5" y="454.6" font-size="10.8" fill="#000" textLength="33.7" lengthAdjust="spacingAndGlyphs">(2412)</text>
<text x="759.5" y="468.2" font-size="10.8" fill="#000" font-weight="bold" stroke="#000" stroke-width="0.3" textLength="28.5" lengthAdjust="spacingAndGlyphs">ApaI</text>
<text x="803.7" y="468.2" font-size="10.8" fill="#000" textLength="33.4" lengthAdjust="spacingAndGlyphs">(2416)</text>
<text x="726.7" y="543" font-size="10.8" fill="#000" font-weight="bold" stroke="#000" stroke-width="0.3" textLength="26.4" lengthAdjust="spacingAndGlyphs">PasI</text>
<text x="767.3" y="543" font-size="10.8" fill="#000" textLength="33.5" lengthAdjust="spacingAndGlyphs">(2826)</text>
<text x="716.5" y="559" font-size="10.8" fill="#000" font-weight="bold" stroke="#000" stroke-width="0.3" textLength="37.2" lengthAdjust="spacingAndGlyphs">EcoRV</text>
<text x="770.5" y="559" font-size="10.8" fill="#000" textLength="33.5" lengthAdjust="spacingAndGlyphs">(2910)</text>
<text x="549.8" y="685.1" font-size="10.8" fill="#000" font-weight="bold" stroke="#000" stroke-width="0.3" textLength="27.9" lengthAdjust="spacingAndGlyphs">PmlI</text>
<text x="592.5" y="685.1" font-size="10.8" fill="#000" textLength="33.4" lengthAdjust="spacingAndGlyphs">(3846)</text>
<text x="458.9" y="378.7" font-size="12" font-weight="bold" stroke="#000" stroke-width="0.35" textLength="59.5" lengthAdjust="spacingAndGlyphs">NG-ABE9</text>
<text x="468.3" y="391.6" font-size="10.6" textLength="40.7" lengthAdjust="spacingAndGlyphs">8217 bp</text>
<text x="776.6" y="10.2" font-size="7.4" fill="#b4b4b4" textLength="37" lengthAdjust="spacingAndGlyphs">Created by</text>
<path d="M816.5,1.9 L820.6,2.0 Q823.9,2.3 823.6,4.8 Q823.3,6.9 821.2,7.6 L819.5,12.5 L818.5,12.5 Z" fill="#9bdcfb"/>
<path d="M819.6,2.4 L820.4,2.4 L819.6,9 Z" fill="#c4ebfd"/>
<text x="825.7" y="10.6" font-size="9.8" fill="#84909c" stroke="#84909c" stroke-width="0.25" textLength="44.3" lengthAdjust="spacingAndGlyphs">SnapGene</text>
</svg>
</body></html>
